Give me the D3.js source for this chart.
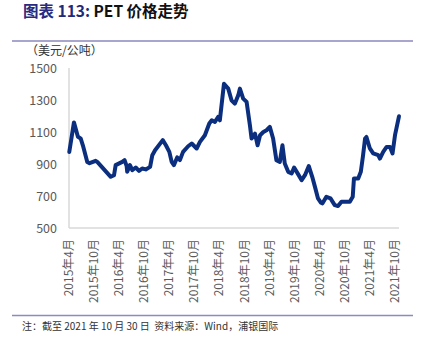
<!DOCTYPE html>
<html>
<head>
<meta charset="utf-8">
<title>PET 价格走势</title>
<script src="https://d3js.org/d3.v7.min.js"></script>
<style>
  body { margin: 0; background: #fff; }
  svg text { font-family: "Noto Sans CJK SC", "Noto Sans", sans-serif; }
</style>
</head>
<body>
<div class="pet-chart"></div>
<script>
  // PET price, USD per tonne
  const dates = [
    '2015-04-03', '2015-05-07', '2015-06-05', '2015-06-25', '2015-07-11', '2015-08-12', '2015-08-29',
    '2015-10-12', '2015-10-24', '2016-01-30', '2016-02-23', '2016-03-06', '2016-04-23', '2016-05-10',
    '2016-05-25', '2016-05-29', '2016-06-18', '2016-07-05', '2016-07-30', '2016-08-23', '2016-09-15',
    '2016-10-11', '2016-11-12', '2016-11-28', '2016-12-18', '2017-02-12', '2017-03-07', '2017-04-01',
    '2017-04-18', '2017-05-04', '2017-05-28', '2017-06-17', '2017-07-10', '2017-08-16', '2017-09-11',
    '2017-10-17', '2017-11-10', '2017-12-16', '2018-01-17', '2018-02-04', '2018-02-27', '2018-03-22',
    '2018-04-04', '2018-05-04', '2018-06-04', '2018-06-28', '2018-07-22', '2018-08-16', '2018-08-28',
    '2018-09-21', '2018-10-16', '2018-11-09', '2018-11-21', '2018-12-16', '2019-01-04', '2019-01-22',
    '2019-02-15', '2019-03-10', '2019-04-03', '2019-04-27', '2019-05-21', '2019-06-15', '2019-07-04',
    '2019-07-21', '2019-08-15', '2019-09-09', '2019-09-27', '2019-10-27', '2019-11-21', '2019-12-15',
    '2020-01-12', '2020-02-06', '2020-02-26', '2020-03-19', '2020-04-09', '2020-04-21', '2020-05-19',
    '2020-06-18', '2020-07-19', '2020-08-12', '2020-09-06', '2020-11-06', '2020-11-27', '2020-12-06',
    '2021-01-06', '2021-01-25', '2021-02-09', '2021-02-25', '2021-03-07', '2021-04-01', '2021-04-25',
    '2021-06-01', '2021-06-13', '2021-07-07', '2021-08-01', '2021-08-25', '2021-09-13', '2021-10-01',
    '2021-10-30'
  ];
  const prices = [
    975, 1160, 1070, 1060, 1017, 913, 905,
    920, 913, 820, 830, 893, 913, 924,
    887, 851, 893, 862, 878, 857, 872,
    866, 882, 955, 986, 1049, 1017, 976,
    913, 893, 941, 924, 976, 1011, 1028,
    997, 1038, 1080, 1153, 1173, 1163, 1194,
    1173, 1402, 1371, 1298, 1277, 1329, 1371,
    1309, 1288, 1142, 1059, 1090, 1017, 1080,
    1100, 1111, 1132, 1059, 924, 913, 1017,
    903, 851, 841, 878, 835, 799, 830,
    887, 820, 757, 685, 658, 654, 695,
    685, 643, 637, 664, 664, 695, 810,
    810, 851, 945, 1059, 1069, 997, 966,
    955, 934, 976, 1007, 1007, 966, 1080,
    1198
  ];
  const yTicks = [500, 700, 900, 1100, 1300, 1500];
  const xTicks = ['2015-04-01', '2015-10-01', '2016-04-01', '2016-10-01', '2017-04-01', '2017-10-01',
                  '2018-04-01', '2018-10-01', '2019-04-01', '2019-10-01', '2020-04-01', '2020-10-01',
                  '2021-04-01', '2021-10-01'];

  const parse = d3.timeParse('%Y-%m-%d');
  const data = dates.map((d, i) => ({ date: parse(d), value: prices[i] }));

  const width = 426, height = 348;
  const svg = d3.select('.pet-chart')
    .append('svg')
    .attr('width', width)
    .attr('height', height);

  // title
  const title = svg.append('text')
    .attr('x', 23)
    .attr('y', 17)
    .attr('font-size', '15.5px')
    .attr('font-weight', 'bold');
  title.append('tspan').attr('fill', '#2a2a80').text('图表 ');
  title.append('tspan').attr('fill', '#1f2a78').text('113: ');
  title.append('tspan').attr('fill', '#111').text('PET 价格走势');

  svg.append('line')
    .attr('x1', 12).attr('x2', 413)
    .attr('y1', 41).attr('y2', 41)
    .attr('stroke', '#a8a6cc')
    .attr('stroke-width', 2);

  svg.append('text')
    .attr('x', 26)
    .attr('y', 55)
    .attr('font-size', '12px')
    .attr('fill', '#333')
    .text('（美元/公吨）');

  // scales
  const x = d3.scaleTime()
    .domain([parse('2015-04-01'), parse('2021-10-01')])
    .range([69, 395]);

  const y = d3.scaleLinear()
    .domain([500, 1500])
    .range([228, 68]);

  // axes lines
  svg.append('line')
    .attr('x1', 69).attr('x2', 69)
    .attr('y1', y(1500)).attr('y2', y(500))
    .attr('stroke', '#d9d9d9')
    .attr('stroke-width', 1.5);

  svg.append('line')
    .attr('x1', 69).attr('x2', x(data[data.length - 1].date))
    .attr('y1', y(500)).attr('y2', y(500))
    .attr('stroke', '#d9d9d9')
    .attr('stroke-width', 1.5);

  // y tick labels
  svg.selectAll('.ylabel')
    .data(yTicks)
    .enter()
    .append('text')
    .attr('class', 'ylabel')
    .attr('x', 57)
    .attr('y', d => y(d) + 4.5)
    .attr('text-anchor', 'end')
    .attr('font-size', '12.5px')
    .attr('fill', '#595959')
    .text(d => d);

  // x tick labels, rotated
  const fmt = d => { const t = parse(d); return t.getFullYear() + '年' + (t.getMonth() + 1) + '月'; };
  svg.selectAll('.xlabel')
    .data(xTicks)
    .enter()
    .append('text')
    .attr('class', 'xlabel')
    .attr('transform', d => 'translate(' + (x(parse(d)) + 4) + ',239) rotate(-90)')
    .attr('text-anchor', 'end')
    .attr('font-size', '12px')
    .attr('fill', '#595959')
    .text(fmt);

  // price line
  const line = d3.line()
    .x(d => x(d.date))
    .y(d => y(d.value))
    .curve(d3.curveLinear);

  svg.append('path')
    .datum(data)
    .attr('d', line)
    .attr('fill', 'none')
    .attr('stroke', '#0b2f7e')
    .attr('stroke-width', 4)
    .attr('stroke-linejoin', 'round')
    .attr('stroke-linecap', 'round');

  // footer
  svg.append('line')
    .attr('x1', 12).attr('x2', 413)
    .attr('y1', 315.5).attr('y2', 315.5)
    .attr('stroke', '#8c89c4')
    .attr('stroke-width', 1.5);

  svg.append('text')
    .attr('x', 22)
    .attr('y', 330)
    .attr('font-size', '10px')
    .attr('fill', '#333')
    .text('注：截至 2021 年 10 月 30 日\u00a0\u00a0资料来源：Wind，浦银国际');
</script>
</body>
</html>
